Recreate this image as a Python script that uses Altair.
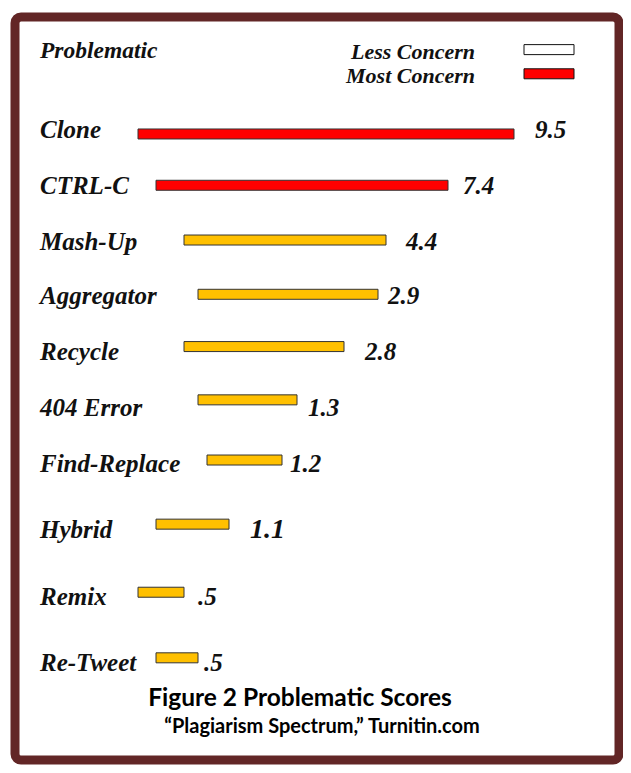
import altair as alt
import pandas as pd

# ---- data ----
names = ["Clone", "CTRL-C", "Mash-Up", "Aggregator", "Recycle",
         "404 Error", "Find-Replace", "Hybrid", "Remix", "Re-Tweet"]
scores = ["9.5", "7.4", "4.4", "2.9", "2.8", "1.3", "1.2", "1.1", ".5", ".5"]
concern = ["Most Concern", "Most Concern", "Moderate", "Moderate", "Moderate",
           "Moderate", "Moderate", "Moderate", "Moderate", "Moderate"]
# floating bar extents on the spectrum
bar_start = [138, 156, 184, 198, 184, 198, 207, 156, 138, 156]
bar_end = [514, 448, 386, 378, 344, 297, 282, 229, 184, 198]
row_pos = [130.5, 182.5, 238, 293, 346, 400, 461, 526, 595, 661.5]
label_pos = [135, 191, 248, 303, 360, 416, 473, 540, 608, 675]
score_pos = [535, 463, 406, 388, 365, 308, 290, 250, 198, 204]

legend_labels = ["Less Concern", "Most Concern"]
legend_row = [45, 69.5]
legend_text_row = [54, 79]

header = "Problematic"
title_text = "Figure 2 Problematic Scores"
subtitle_text = "\u201cPlagiarism Spectrum,\u201d Turnitin.com"

rows = pd.DataFrame({
    "name": names, "score": scores, "concern": concern,
    "start": bar_start, "end": bar_end, "row": row_pos,
    "label_row": label_pos, "score_x": score_pos,
})
leg = pd.DataFrame({"label": legend_labels, "concern": legend_labels,
                    "row": legend_row, "text_row": legend_text_row,
                    "x0": [524, 524], "x1": [574, 574], "tx": [475, 475]})
hdr = pd.DataFrame({"label": [header], "x": [40], "row": [53]})

W, H = 604, 743
xs = alt.Scale(domain=[15, 15 + W], nice=False, zero=False)
ys = alt.Scale(domain=[17, 17 + H], nice=False, zero=False, reverse=True)
color = alt.Scale(domain=["Less Concern", "Most Concern", "Moderate"],
                  range=["#ffffff", "#ff0000", "#ffc000"])

SERIF = "Liberation Serif"

bars = alt.Chart(rows).mark_bar(orient="horizontal", size=10, stroke="#333333",
                                strokeWidth=1).encode(
    x=alt.X("start:Q", scale=xs, axis=None),
    x2="end:Q",
    y=alt.Y("row:Q", scale=ys, axis=None),
    fill=alt.Fill("concern:N", scale=color, legend=None),
)

labels = alt.Chart(rows).mark_text(font=SERIF, fontStyle="italic", fontWeight="bold",
                                   fontSize=25, align="left", baseline="alphabetic",
                                   color="#111111").encode(
    x=alt.value(25),
    y=alt.Y("label_row:Q", scale=ys, axis=None),
    text="name:N",
)

score_txt = alt.Chart(rows).mark_text(font=SERIF, fontStyle="italic", fontWeight="bold",
                                      align="left", baseline="alphabetic",
                                      color="#111111").encode(
    x=alt.X("score_x:Q", scale=xs, axis=None),
    y=alt.Y("label_row:Q", scale=ys, axis=None),
    text="score:N",
    size=alt.condition("datum.name == 'Hybrid'", alt.value(28), alt.value(25)),
)

leg_box = alt.Chart(leg).mark_bar(orient="horizontal", size=10, stroke="#111111",
                                  strokeWidth=1).encode(
    x=alt.X("x0:Q", scale=xs, axis=None),
    x2="x1:Q",
    y=alt.Y("row:Q", scale=ys, axis=None),
    fill=alt.Fill("concern:N", scale=color, legend=None),
)

leg_txt = alt.Chart(leg).mark_text(font=SERIF, fontStyle="italic", fontWeight="bold",
                                   fontSize=22, align="right", baseline="alphabetic",
                                   color="#111111").encode(
    x=alt.X("tx:Q", scale=xs, axis=None),
    y=alt.Y("text_row:Q", scale=ys, axis=None),
    text="label:N",
)

hdr_txt = alt.Chart(hdr).mark_text(font=SERIF, fontStyle="italic", fontWeight="bold",
                                   fontSize=23.5, align="left", baseline="alphabetic",
                                   color="#111111").encode(
    x=alt.X("x:Q", scale=xs, axis=None),
    y=alt.Y("row:Q", scale=ys, axis=None),
    text="label:N",
)

title = alt.Chart(pd.DataFrame({"t": [title_text]})).mark_text(
    font="Lato", fontWeight="bold", fontSize=24.5, align="center",
    baseline="alphabetic", color="#000000").encode(
    x=alt.value(285), y=alt.value(689), text="t:N")

subtitle = alt.Chart(pd.DataFrame({"t": [subtitle_text]})).mark_text(
    font="Lato", fontWeight="bold", fontSize=20, align="center",
    baseline="alphabetic", color="#000000").encode(
    x=alt.value(307), y=alt.value(716), text="t:N")

chart = alt.layer(bars, labels, score_txt, leg_box, leg_txt, hdr_txt, title, subtitle).properties(
    width=W, height=H,
    padding={"left": 7, "top": 9, "right": 4, "bottom": 5},
    autosize=alt.AutoSizeParams(type="none"),
    background="#ffffff",
).configure_view(
    stroke="#622626", strokeWidth=9, cornerRadius=6, fill="#ffffff",
)

chart.save("out.html", embed_options={"renderer": "svg", "actions": False})
